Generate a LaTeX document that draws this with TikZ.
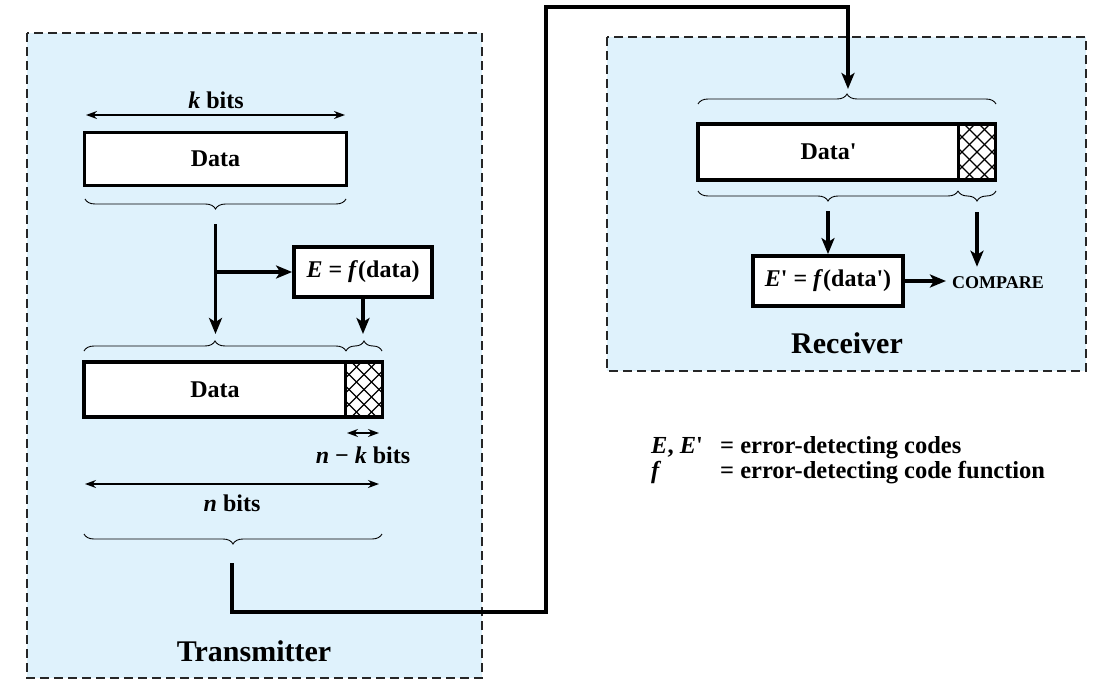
\documentclass[tikz,border=0pt]{standalone}
\usepackage{fontspec}
\setmainfont{Liberation Serif}[Ligatures=TeXOff]
\usetikzlibrary{arrows.meta,decorations.pathreplacing}
\definecolor{skyfill}{RGB}{223,242,252}

\begin{document}
\begin{tikzpicture}[x=1pt,y=-1pt,
    every node/.style={font=\fontsize{24}{26}\selectfont\bfseries},
    frame/.style={draw=black!85, line width=1.4pt, dash pattern=on 9pt off 5pt, fill=skyfill},
    box/.style={draw, line width=3.8pt, fill=white, inner sep=0pt},
    hatched/.style={box, path picture={
        \foreach \i in {-4,...,4} {
          \draw[line width=1.2pt] ([xshift=\i*15pt]path picture bounding box.center) ++(-45pt,-45pt) -- ++(90pt,90pt);
          \draw[line width=1.2pt] ([xshift=\i*15pt]path picture bounding box.center) ++(45pt,-45pt) -- ++(-90pt,90pt);
        }}},
    arr/.style={line width=3.2pt, -{Stealth[length=16pt,width=13pt,inset=4pt]}},
    link/.style={line width=3.2pt},
    dim/.style={line width=1.3pt, {Stealth[length=11pt,width=8pt]}-{Stealth[length=11pt,width=8pt]}},
    brc/.style={decorate, decoration={brace, amplitude=10pt}, line width=0.9pt},
    brcd/.style={brc, decoration={mirror}},
    lab/.style={font=\fontsize{30}{32}\selectfont\bfseries},
    legtext/.style={anchor=base west, inner sep=0pt, font=\fontsize{24.5}{26}\selectfont\bfseries}
  ]
  \useasboundingbox (0,0) rectangle (1114,696);

  % frames first, the channel line runs over them
  \draw[frame] (27,33) rectangle (482,678);
  \draw[frame] (607,37) rectangle (1086,371);

  % transmitter
  \node (kbits) at (216,100) {\textit{k} bits};
  \coordinate (kL) at (86,115);
  \coordinate (kR) at (345,115);
  \draw[dim] (kL) -- (kR);
  \node[box, minimum width=262, minimum height=53] (data1) at (215.5,159) {Data};
  \draw[brcd] (85,199) -- (346,199);

  \coordinate (s1) at (215.5,224);
  \coordinate (split) at (215.5,272);
  \coordinate (t1) at (215.5,334);
  \node[box, minimum width=138, minimum height=50] (ebox) at (363,272) {\textit{E} = \textit{f}(data)};
  \draw[link] (s1) -- (split);
  \draw[arr] (split) -- (t1);
  \draw[arr] (split) -- (split -| ebox.west);
  \coordinate (t2) at (363,334);
  \draw[arr] (ebox) -- (t2);

  \draw[brc] (84,351) -- (346,351);
  \draw[brc] (346,351) -- (382,351);
  \node[box, minimum width=262, minimum height=55] (data2) at (215,389.5) {Data};
  \node[hatched, minimum width=37, minimum height=55] (chk2) at (364,389.5) {};

  \coordinate (nkL) at (347,433);
  \coordinate (nkR) at (379,433);
  \draw[dim] (nkL) -- (nkR);
  \node (nkbits) at (363,455) {\textit{n} − \textit{k} bits};
  \coordinate (nL) at (85,484);
  \coordinate (nR) at (379,484);
  \draw[dim] (nL) -- (nR);
  \node (nbits) at (232,503) {\textit{n} bits};
  \draw[brcd] (84,534) -- (382,534);
  \node[lab] (txlab) at (254,651) {Transmitter};

  % channel
  \coordinate (txout) at (232,563);
  \coordinate (rxin) at (848,89);
  \draw[arr] (txout) -- (232,612) -| (546,7) -| (rxin);

  % receiver
  \draw[brc] (698,104) -- (996,104);
  \node[box, minimum width=261, minimum height=56] (data3) at (828.5,152) {Data'};
  \node[hatched, minimum width=37, minimum height=56] (chk3) at (977,152) {};
  \draw[brcd] (698,191) -- (958,191);
  \draw[brcd] (958,191) -- (996,191);

  \node[box, minimum width=150, minimum height=50] (ebox2) at (828,281) {\textit{E}' = \textit{f}(data')};
  \node[font=\fontsize{18}{20}\selectfont\bfseries, inner xsep=6pt, inner ysep=10pt] (cmp) at (998,283) {COMPARE};
  \coordinate (r1) at (828,211);
  \coordinate (r2) at (977,212);
  \draw[arr] (r1) -- (ebox2);
  \draw[arr] (r2) -- (r2 |- cmp.north);
  \draw[arr] (ebox2.east) -- (ebox2.east -| cmp.west);
  \node[lab] (rxlab) at (847,343) {Receiver};

  % legend
  \node[legtext] (leg1) at (651,453) {\textit{E}, \textit{E}'};
  \node[legtext] (leg2) at (720,453) {= error-detecting codes};
  \node[legtext] (leg3) at (651,478) {\textit{f}};
  \node[legtext] (leg4) at (720,478) {= error-detecting code function};
\end{tikzpicture}
\end{document}
